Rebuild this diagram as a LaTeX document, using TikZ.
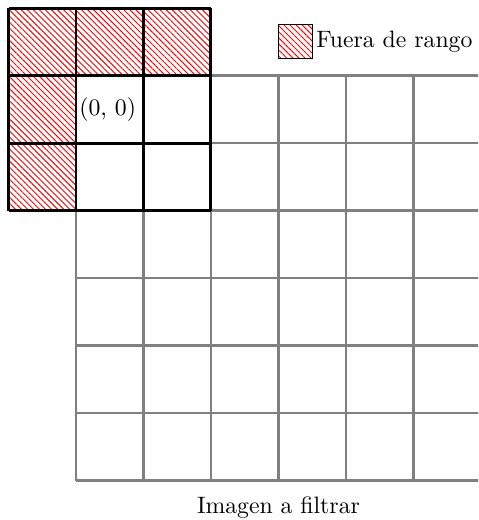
\documentclass[tikz,border=0pt]{standalone}
\usetikzlibrary{patterns.meta}
\begin{document}
\begin{tikzpicture}[
  graygrid/.style={draw=gray, line width=1pt},
  blackgrid/.style={draw=black, line width=1.25pt},
  hatched/.style={pattern={Lines[angle=-45,distance=1.8pt,line width=0.4pt]}, pattern color=red},
  lbl/.style={inner sep=1pt}
]
\useasboundingbox (-0.126,0.119) rectangle (6.956,-7.585);
% image grid (gray), clipped by bounding box
\begin{scope}
\clip (-0.126,0.119) rectangle (6.956,-7.585);
\draw[graygrid] (1,-1) grid (7,-7);
\end{scope}
% out of range cells
\fill[hatched] (0,0) rectangle (3,-1);
\fill[hatched] (0,-1) rectangle (1,-3);
% kernel grid (black)
\draw[blackgrid] (0,0) grid (3,-3);
\node[lbl] (origin) at (1.47,-1.5) {(0, 0)};
% legend
\draw[hatched, draw=black, line width=0.4pt] (4,-0.25) rectangle (4.5,-0.75);
\coordinate (legbox) at (4.52,-0.5);
\node[lbl, anchor=west] (legend) at (legbox) {Fuera de rango};
% caption
\node (caption) at (4,-7.4) {Imagen a filtrar};
\end{tikzpicture}
\end{document}
